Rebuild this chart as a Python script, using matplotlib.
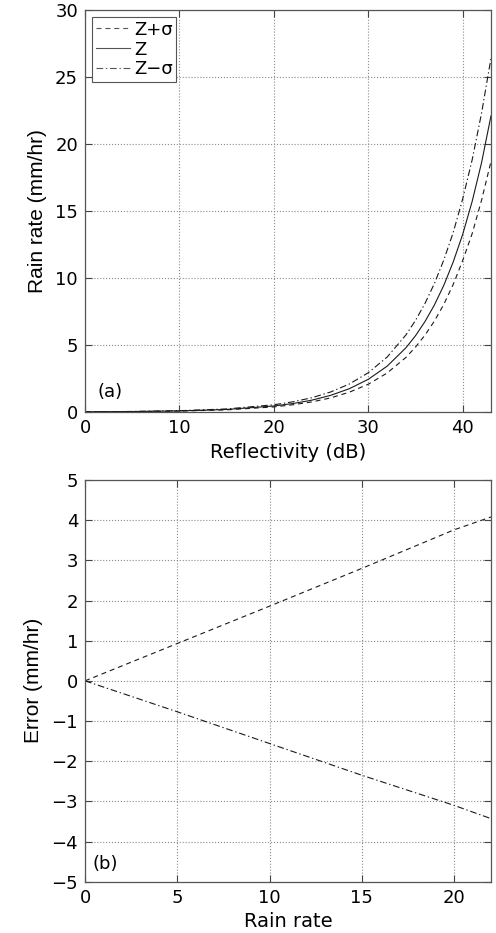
import matplotlib; matplotlib.use("Agg")
import matplotlib.pyplot as plt
from matplotlib import font_manager as fm

# panel (a): rain rate (mm/hr) (dB)
dbz = [0, 5, 10, 15, 20, 22, 24, 26, 28, 30, 32, 34, 35, 36, 37, 38, 39, 40, 41, 42, 43]
r_z = [0.015, 0.035, 0.083, 0.19, 0.45, 0.63, 0.88, 1.24, 1.74, 2.44, 3.42, 4.80,
       5.69, 6.74, 7.98, 9.45, 11.2, 13.25, 15.7, 18.6, 22.1]
r_zminus = [0.018, 0.043, 0.099, 0.23, 0.54, 0.76, 1.06, 1.49, 2.09, 2.93, 4.10, 5.76,
            6.83, 8.09, 9.58, 11.34, 13.4, 15.9, 18.8, 22.3, 26.4]
r_zplus = [0.013, 0.030, 0.070, 0.16, 0.38, 0.54, 0.75, 1.05, 1.48, 2.07, 2.91, 4.08,
           4.84, 5.73, 6.78, 8.03, 9.52, 11.3, 13.3, 15.8, 18.7]

# panel (b): error vs rain rate
rate = [0, 5, 10, 15, 20, 22]
err_plus = [0, 0.93, 1.86, 2.80, 3.76, 4.08]
err_minus = [0, -0.77, -1.56, -2.35, -3.10, -3.43]

names = {f.name for f in fm.fontManager.ttflist}
narrow = "Liberation Sans Narrow" if "Liberation Sans Narrow" in names else "Liberation Sans"

plt.rcParams["font.family"] = ["DejaVu Sans"]
plt.rcParams["font.size"] = 13

DASH = (4.5, 3.5)
DASHDOT = (6, 2.5, 1.2, 2.5)
LC = "#1a1a1a"

fig = plt.figure(figsize=(4.96, 9.33), dpi=100)
ax1 = fig.add_axes([0.1714, 0.5584, 0.8185, 0.4309])
ax2 = fig.add_axes([0.1714, 0.055, 0.8185, 0.4305])

def style(ax):
    ax.grid(True, ls=":", color="#8c8c8c", lw=0.8)
    ax.tick_params(direction="in", top=True, right=True, length=5, width=0.8,
                   labelsize=13, pad=5, color="#444444", labelcolor="black")
    for s in ax.spines.values():
        s.set_color("#555555"); s.set_linewidth(0.9)
    ax.set_axisbelow(True)

ax1.plot(dbz, r_zplus, color=LC, lw=0.8, dashes=DASH, label="Z+σ")
ax1.plot(dbz, r_z, color=LC, lw=0.8, label="Z")
ax1.plot(dbz, r_zminus, color=LC, lw=0.8, dashes=DASHDOT, label="Z−σ")
ax1.set_xlim(0, 43); ax1.set_ylim(0, 30)
ax1.set_xticks([0, 10, 20, 30, 40]); ax1.set_yticks([0, 5, 10, 15, 20, 25, 30])
style(ax1)
ax1.set_xlabel("Reflectivity (dB)", fontsize=14, labelpad=4)
ax1.set_ylabel("Rain rate (mm/hr)", fontsize=15, family=[narrow, "DejaVu Sans"], labelpad=6)
ax1.text(1.3, 1.5, "(a)", fontsize=13, va="center")
leg = ax1.legend(loc="upper left", fontsize=13, handlelength=1.9, handletextpad=0.2,
                 labelspacing=0.1, borderpad=0.2, borderaxespad=0.4, fancybox=False,
                 framealpha=1, edgecolor="#555555")
leg.get_frame().set_linewidth(0.8)
for h in leg.get_lines():
    h.set_color("#555555")

ax2.plot(rate, err_plus, color=LC, lw=0.8, dashes=DASH)
ax2.plot(rate, err_minus, color=LC, lw=0.8, dashes=DASHDOT)
ax2.set_xlim(0, 22); ax2.set_ylim(-5, 5)
ax2.set_xticks([0, 5, 10, 15, 20]); ax2.set_yticks(range(-5, 6))
ax2.set_yticklabels([str(v).replace("-", "−") for v in range(-5, 6)])
style(ax2)
ax2.set_xlabel("Rain rate", fontsize=14, labelpad=4)
ax2.set_ylabel("Error (mm/hr)", fontsize=15, family=[narrow, "DejaVu Sans"], labelpad=6)
ax2.text(0.4, -4.55, "(b)", fontsize=13, va="center")

fig.savefig("out.png", dpi=100)
